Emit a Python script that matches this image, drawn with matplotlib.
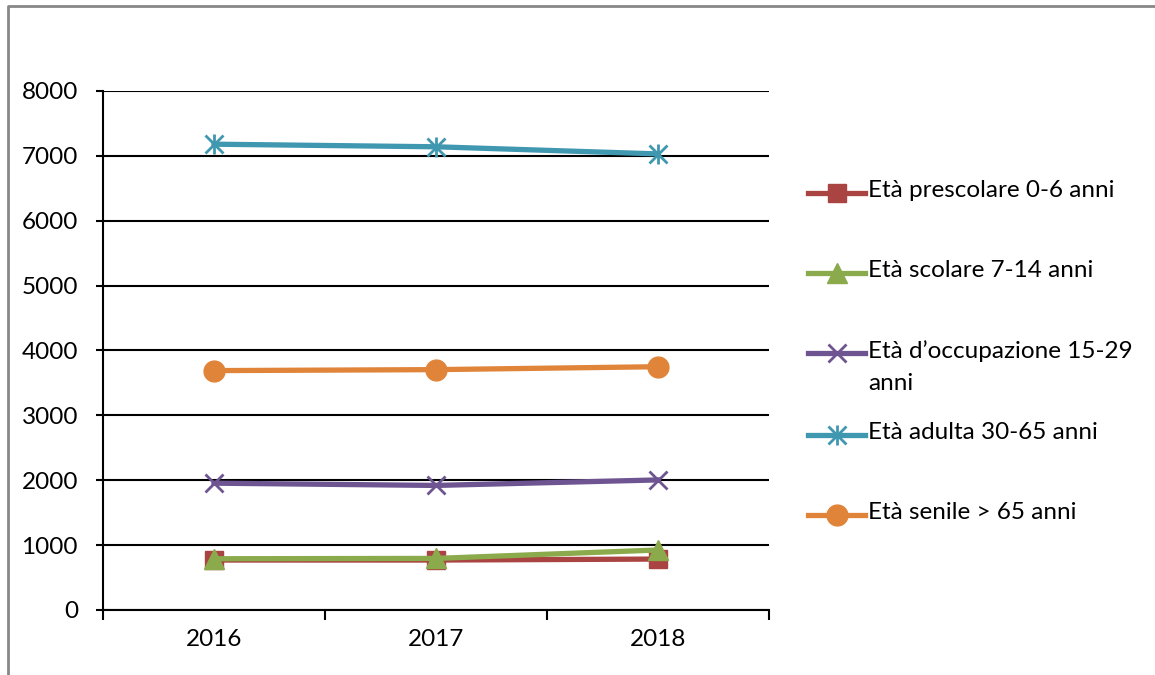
import matplotlib.pyplot as plt
from matplotlib.lines import Line2D

years = ["2016", "2017", "2018"]
prescolare = [770, 770, 785]
scolare = [790, 795, 925]
occupazione = [1955, 1920, 2005]
adulta = [7180, 7140, 7030]
senile = [3690, 3705, 3750]

labels = ["Età prescolare 0-6 anni", "Età scolare 7-14 anni",
          "Età d\u2019occupazione 15-29\nanni", "Età adulta 30-65 anni",
          "Età senile > 65 anni"]
colors = ["#AA4442", "#8BAA4B", "#6E5592", "#3F97B0", "#E0843A"]
markers = ["s", "^", "x", "x", "o"]
yticks = [0, 1000, 2000, 3000, 4000, 5000, 6000, 7000, 8000]

plt.rcParams['font.family'] = ['Lato', 'DejaVu Sans']
plt.rcParams['font.size'] = 17.5

fig = plt.figure(figsize=(11.55, 6.75), dpi=100)
ax = fig.add_axes([0.0892, 0.0963, 0.5766, 0.7689])


def msize(mk):
    return {"s": 13, "^": 14, "x": 13, "o": 15}[mk]


x = range(len(years))
series = [prescolare, scolare, occupazione, adulta, senile]
for i in [3, 4, 2, 1, 0]:
    ax.plot(x, series[i], color=colors[i], lw=3.8, marker=markers[i],
            ms=msize(markers[i]), mew=2 if markers[i] == "x" else 1,
            zorder=3 + i * 0.1 if i != 0 else 3.05)
    if i == 3:
        ax.plot(x, series[i], ls="none", color=colors[i], marker="|",
                ms=15, mew=2, zorder=3.3)

ax.set_xlim(-0.5, 2.5)
ax.set_ylim(0, 8000)
ax.set_yticks(yticks)
ax.set_xticks(list(x))
ax.set_xticklabels(years)
ax.set_xticks([-0.5, 0.5, 1.5, 2.5], minor=True)
ax.tick_params(axis="x", which="major", length=0, pad=14)
ax.tick_params(axis="x", which="minor", length=7, width=1.5, direction="out")
ax.tick_params(axis="y", length=5, width=1.5, pad=13)
ax.grid(axis="y", color="black", lw=1.5)
ax.set_axisbelow(True)
for s in ["top", "right"]:
    ax.spines[s].set_visible(False)
for s in ["left", "bottom"]:
    ax.spines[s].set_linewidth(1.5)

# legend drawn by hand so the wrapped label keeps Excel spacing
W, H = 1155, 675
leg_y = [193, 273, 353, 435, 515]
for i, lab in enumerate(labels):
    yf = 1 - leg_y[i] / H
    xs = [808 / W, 865 / W]
    fig.add_artist(Line2D(xs, [yf, yf], color=colors[i], lw=3.8))
    mk = markers[i]
    fig.add_artist(Line2D([836.5 / W], [yf], color=colors[i], marker=mk,
                          ms=msize(mk), mew=2 if mk == "x" else 1))
    if i == 3:
        fig.add_artist(Line2D([836.5 / W], [yf], color=colors[i],
                              marker="|", ms=15, mew=2))
    fig.text(868 / W, yf + 13 / H, lab, va="top", ha="left",
             linespacing=1.65)

# outer chart border (left and top)
fig.add_artist(Line2D([8 / W, 8 / W, 1.0], [0, 1 - 6 / H, 1 - 6 / H],
                      color="#878787", lw=2))

fig.savefig("out.png", dpi=100)
